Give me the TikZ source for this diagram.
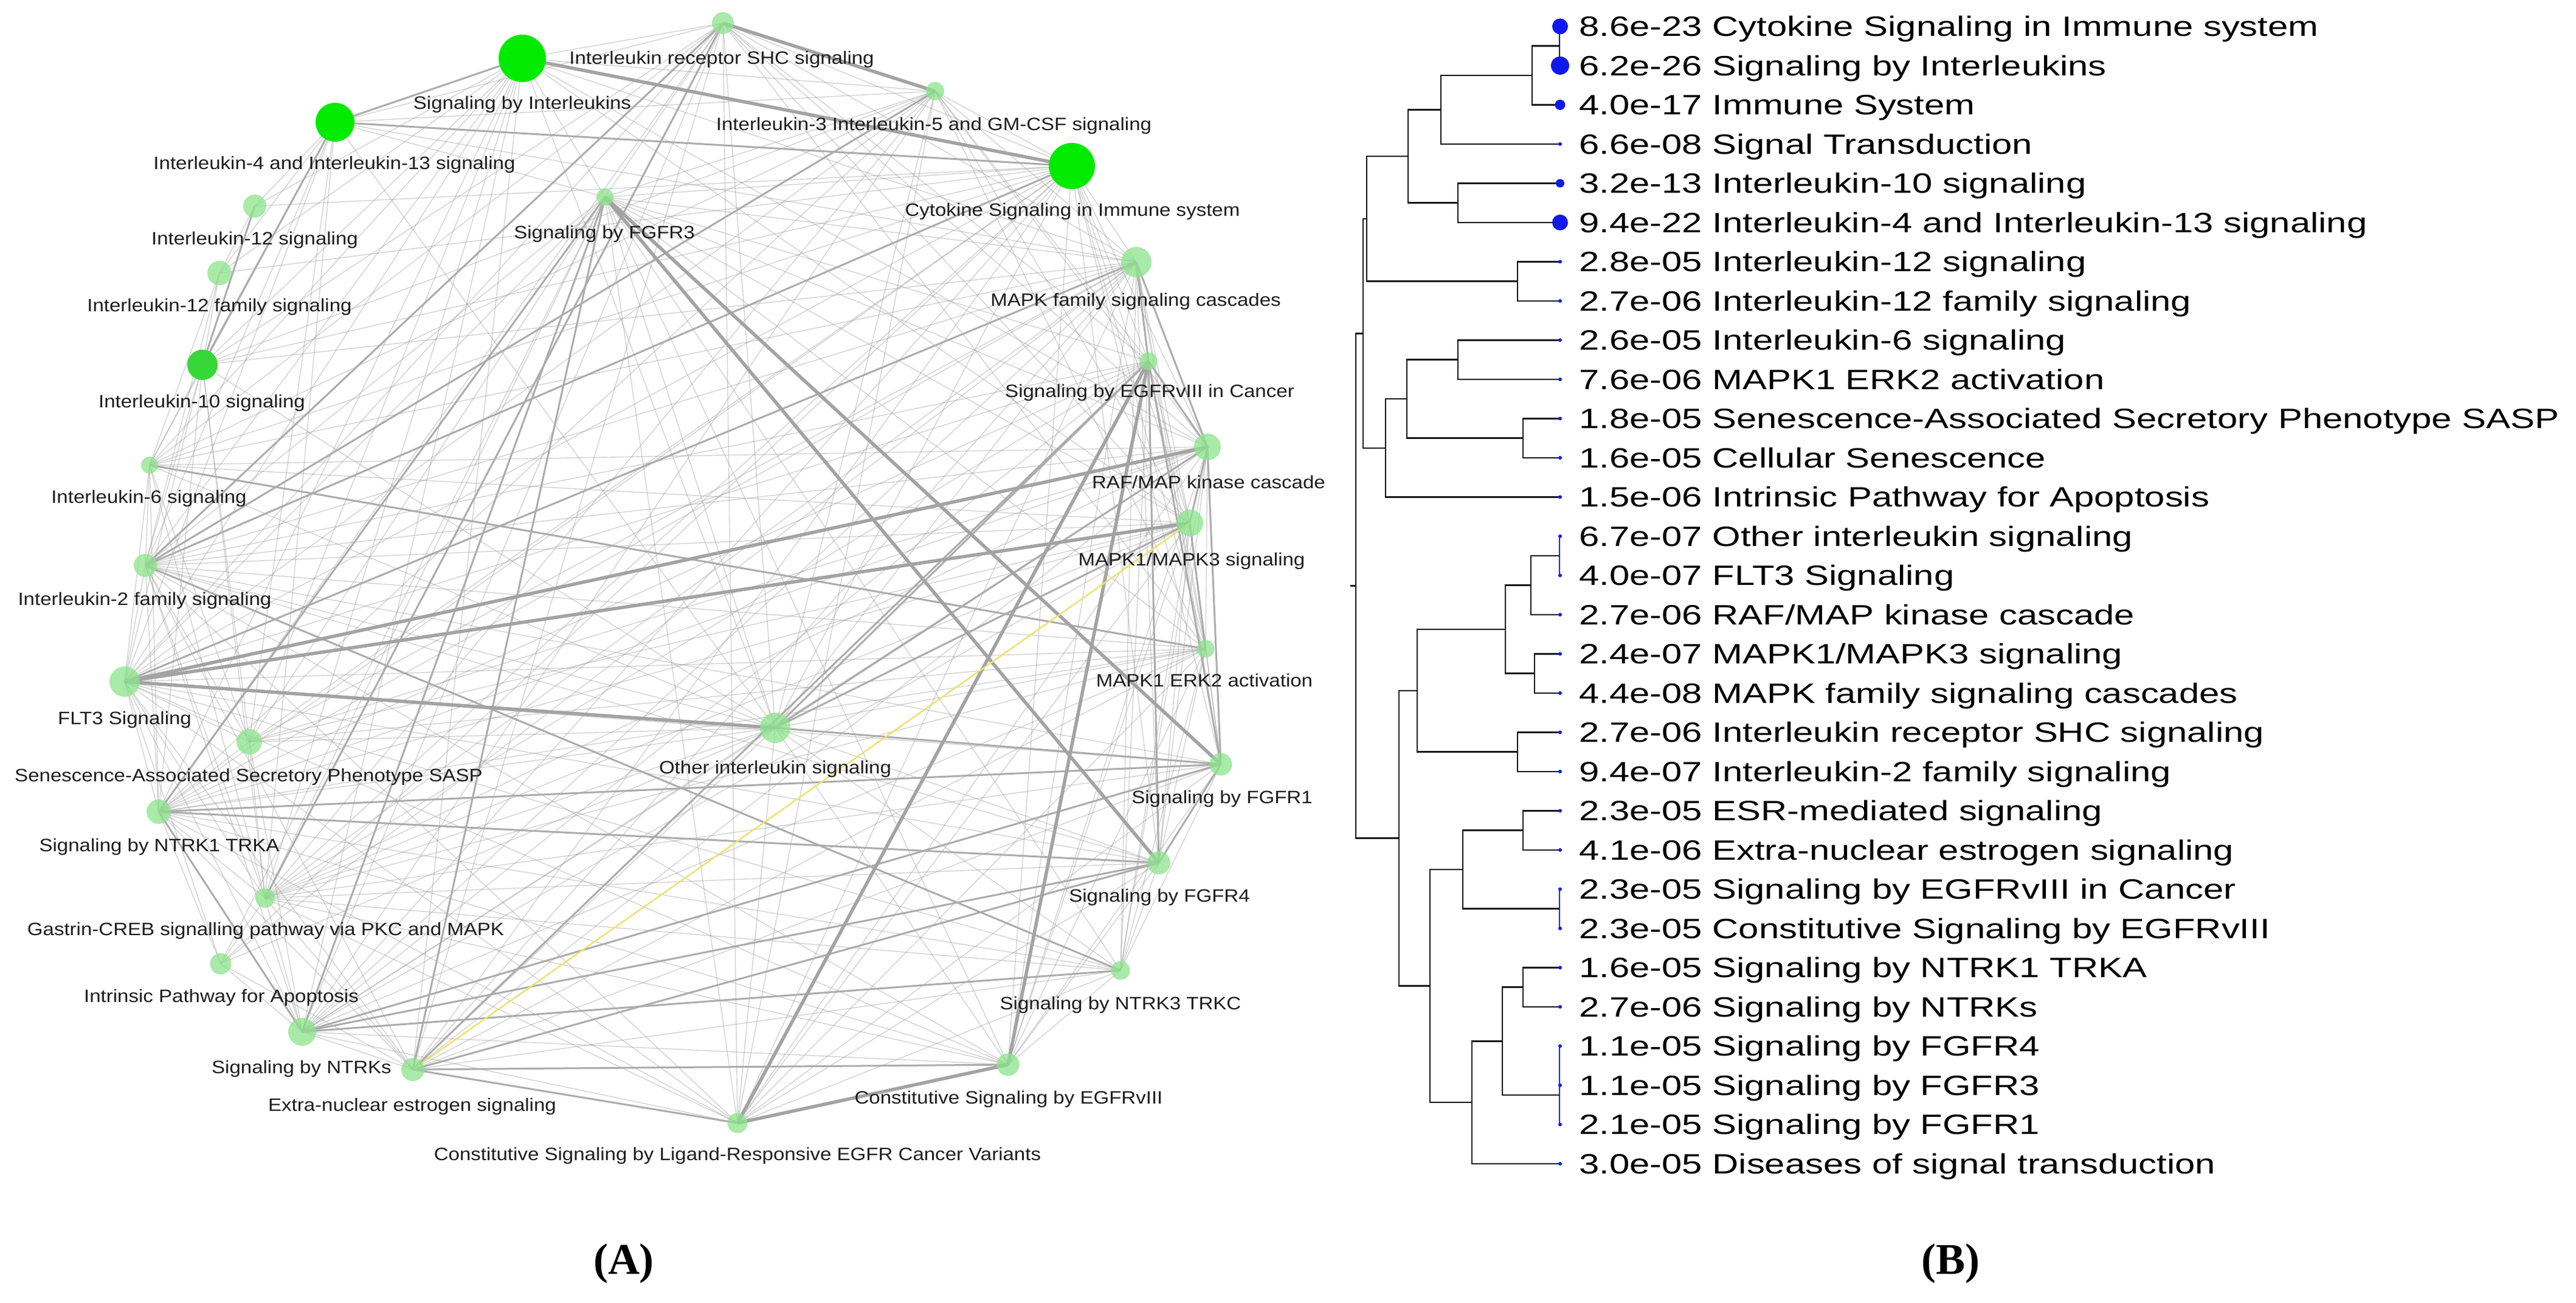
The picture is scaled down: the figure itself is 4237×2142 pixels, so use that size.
\documentclass[tikz,border=0pt]{standalone}
\usepackage{fontspec}
\newfontfamily\netfont[FakeStretch=1.12]{Liberation Sans}
\newfontfamily\dendfont[FakeStretch=1.3]{Liberation Sans}
\newfontfamily\capfont{Liberation Serif}
\pgfdeclarelayer{back}
\pgfdeclarelayer{edges}
\pgfsetlayers{back,edges,main}
\definecolor{brightgreen}{RGB}{0,235,0}
\definecolor{midgreen}{RGB}{55,215,55}
\definecolor{palegreen}{RGB}{140,228,140}
\definecolor{edgegray}{RGB}{150,150,150}
\definecolor{edgemid}{RGB}{172,172,172}
\definecolor{edgethick}{RGB}{163,163,163}
\definecolor{yedge}{RGB}{238,226,110}
\definecolor{dotblue}{RGB}{15,25,235}
\definecolor{dendline}{RGB}{25,25,25}
\definecolor{dendblue}{RGB}{40,40,190}
\definecolor{labtext}{RGB}{30,30,30}
\tikzset{
  nd/.style={circle, inner sep=0pt, draw=none},
  hot/.style={nd, fill=brightgreen},
  warm/.style={nd, fill=midgreen},
  cool/.style={nd, fill=palegreen, fill opacity=0.75},
  lab/.style={inner sep=0pt, text=labtext, font=\netfont\fontsize{29.5}{35}\selectfont, text height=21pt, text depth=0pt, anchor=center},
  dlab/.style={inner sep=0pt, text=black, font=\dendfont\fontsize{46}{55}\selectfont, text height=33pt, text depth=0pt, anchor=west},
  bdot/.style={circle, inner sep=0pt, draw=none, fill=dotblue},
  capt/.style={inner sep=0pt, font=\capfont\bfseries\fontsize{72}{86}\selectfont},
  ethin/.style={draw=edgegray, draw opacity=0.42, line width=1.4pt},
  emid/.style={draw=edgemid, line width=3pt},
  ethick/.style={draw=edgethick, line width=5.5pt},
  eyellow/.style={draw=yedge, line width=2.5pt},
  dl/.style={draw=dendline, line width=2.6pt},
  dlb/.style={draw=dendblue, line width=2.6pt}
}
\begin{document}
\begin{tikzpicture}[x=1pt,y=-1pt]
\begin{pgfonlayer}{back}
\fill[white] (0,0) rectangle (4237,2142);
\end{pgfonlayer}
\useasboundingbox (0,0) rectangle (4237,2142);

% ---------------- network nodes ----------------
\node[hot, minimum size=78pt] (sbil) at (859,96) {};
\node[hot, minimum size=64pt] (il4) at (551,201) {};
\node[cool, minimum size=36pt] (shc) at (1189,38) {};
\node[cool, minimum size=30pt] (il35) at (1538,150) {};
\node[hot, minimum size=76pt] (cyto) at (1763,273) {};
\node[cool, minimum size=28pt] (fgfr3) at (995,324) {};
\node[cool, minimum size=38pt] (il12) at (419,339) {};
\node[cool, minimum size=40pt] (il12f) at (361,449) {};
\node[warm, minimum size=50pt] (il10) at (333,600) {};
\node[cool, minimum size=28pt] (il6) at (246,765) {};
\node[cool, minimum size=38pt] (il2) at (239,930) {};
\node[cool, minimum size=50pt] (flt3) at (205,1121) {};
\node[cool, minimum size=42pt] (sasp) at (410,1220) {};
\node[cool, minimum size=40pt] (ntrk1) at (261,1335) {};
\node[cool, minimum size=32pt] (gastrin) at (436,1477) {};
\node[cool, minimum size=35pt] (intr) at (363,1585) {};
\node[cool, minimum size=46pt] (ntrks) at (497,1697) {};
\node[cool, minimum size=38pt] (extra) at (679,1759) {};
\node[cool, minimum size=33pt] (cslr) at (1213,1847) {};
\node[cool, minimum size=37pt] (cegfr) at (1658,1751) {};
\node[cool, minimum size=31pt] (ntrk3) at (1843,1596) {};
\node[cool, minimum size=38pt] (fgfr4) at (1906,1419) {};
\node[cool, minimum size=37pt] (fgfr1) at (2008,1257) {};
\node[cool, minimum size=29pt] (erk2) at (1983,1067) {};
\node[cool, minimum size=44pt] (mapk13) at (1957,860) {};
\node[cool, minimum size=44pt] (raf) at (1986,735) {};
\node[cool, minimum size=29pt] (egfrc) at (1889,594) {};
\node[cool, minimum size=50pt] (mapkf) at (1869,431) {};
\node[cool, minimum size=50pt] (other) at (1275,1197) {};

% ---------------- network edges ----------------
\begin{pgfonlayer}{edges}
\def\corelist{fgfr3,fgfr1,fgfr4,ntrk1,ntrks,ntrk3,mapkf,mapk13,raf,erk2,egfrc,cegfr,cslr,extra,gastrin,flt3,other,il2}
\foreach \a [count=\i] in \corelist {
  \foreach \b [count=\j] in \corelist {
    \ifnum\j>\i \draw[ethin] (\a.center) -- (\b.center); \fi
  }
}
\def\illist{cyto,sbil,il4,il10,il6,shc,il35}
\foreach \a [count=\i] in \illist {
  \foreach \b [count=\j] in \illist {
    \ifnum\j>\i \draw[ethin] (\a.center) -- (\b.center); \fi
  }
}
\foreach \a in {cyto,sbil,il4,il10,il6,shc,il35} {
  \foreach \b in {il2,flt3,other} { \draw[ethin] (\a.center) -- (\b.center); }
}
\foreach \a/\b in {il12/il12f, il12/il10, il12/sbil, il12/cyto, il12/il4, il12f/il10, il12f/sbil, il12f/cyto, il12f/il4, il12f/il6, il12f/il2,
  sasp/flt3, sasp/ntrk1, sasp/gastrin, sasp/mapkf, sasp/mapk13, sasp/raf, sasp/erk2, sasp/other, sasp/il6, sasp/il10, sasp/cyto, sasp/sbil, sasp/il4, sasp/il2, sasp/ntrks, sasp/fgfr3,
  intr/ntrks, intr/ntrk1, intr/gastrin, intr/flt3, intr/mapkf, intr/extra, intr/other, intr/cyto, intr/fgfr3,
  il6/mapkf, il6/raf, il6/mapk13, il6/gastrin, il6/ntrk1,
  cyto/mapkf, cyto/raf, cyto/mapk13, cyto/erk2, cyto/egfrc, cyto/fgfr3, cyto/gastrin, cyto/ntrk1, cyto/extra, cyto/fgfr1, cyto/cegfr, cyto/ntrks, cyto/fgfr4,
  sbil/mapkf, sbil/raf, sbil/mapk13, sbil/gastrin, sbil/ntrk1, sbil/extra, sbil/ntrks, sbil/fgfr3,
  shc/mapkf, shc/raf, shc/mapk13, shc/fgfr3, shc/ntrk1, shc/ntrks, shc/cslr, shc/egfrc, shc/extra, shc/erk2,
  il35/mapkf, il35/raf, il35/mapk13, il35/fgfr3, il35/ntrk1, il35/ntrks, il35/gastrin, il35/egfrc, il35/erk2, il35/cslr,
  il10/gastrin, il10/mapkf, il10/ntrk1, il4/mapkf, il4/fgfr3, il4/gastrin}
  { \draw[ethin] (\a.center) -- (\b.center); }
\foreach \a/\b in {sbil/il4, il4/cyto, il2/shc, il2/il35, flt3/mapkf, ntrk1/fgfr1, ntrk1/fgfr4, ntrks/fgfr3, ntrk1/fgfr3,
  other/mapk13, other/raf, other/egfrc, extra/cegfr, extra/cslr, ntrks/fgfr4, ntrks/fgfr1, fgfr4/fgfr1, il4/il10, il12/il10,
  il6/erk2, il2/ntrk3, il2/cyto, extra/egfrc, mapkf/egfrc, egfrc/raf, raf/mapk13, egfrc/fgfr1, raf/fgfr1, egfrc/fgfr4,
  other/fgfr1, gastrin/shc, extra/fgfr3, ntrk1/ntrks, ntrks/ntrk3, extra/fgfr4, mapkf/raf, mapk13/erk2}
  { \draw[emid] (\a.center) -- (\b.center); }
\foreach \a/\b in {sbil/cyto, shc/il35, flt3/other, fgfr3/fgfr4, fgfr3/fgfr1, cslr/egfrc, cegfr/egfrc, cslr/cegfr, flt3/raf, flt3/mapk13}
  { \draw[ethick] (\a.center) -- (\b.center); }
\draw[eyellow] (extra.center) -- (mapk13.center);
\end{pgfonlayer}

% ---------------- network labels ----------------
\node[lab] (l-sbil) at (859,169) {Signaling by Interleukins};
\node[lab] (l-il4) at (550,268) {Interleukin-4 and Interleukin-13 signaling};
\node[lab] (l-shc) at (1187,95) {Interleukin receptor SHC signaling};
\node[lab] (l-il35) at (1536,204) {Interleukin-3 Interleukin-5 and GM-CSF signaling};
\node[lab] (l-cyto) at (1764,345) {Cytokine Signaling in Immune system};
\node[lab] (l-fgfr3) at (994,382) {Signaling by FGFR3};
\node[lab] (l-il12) at (419,392) {Interleukin-12 signaling};
\node[lab] (l-il12f) at (361,502) {Interleukin-12 family signaling};
\node[lab] (l-il10) at (332,660) {Interleukin-10 signaling};
\node[lab] (l-mapkf) at (1868,493) {MAPK family signaling cascades};
\node[lab] (l-egfrc) at (1891,643) {Signaling by EGFRvIII in Cancer};
\node[lab] (l-raf) at (1988,793) {RAF/MAP kinase cascade};
\node[lab] (l-il6) at (245,817) {Interleukin-6 signaling};
\node[lab] (l-mapk13) at (1960,920) {MAPK1/MAPK3 signaling};
\node[lab] (l-il2) at (238,985) {Interleukin-2 family signaling};
\node[lab] (l-erk2) at (1981,1119) {MAPK1 ERK2 activation};
\node[lab] (l-flt3) at (205,1181) {FLT3 Signaling};
\node[lab] (l-other) at (1275,1262) {Other interleukin signaling};
\node[lab] (l-sasp) at (409,1275) {Senescence-Associated Secretory Phenotype SASP};
\node[lab] (l-fgfr1) at (2010,1311) {Signaling by FGFR1};
\node[lab] (l-ntrk1) at (262,1390) {Signaling by NTRK1 TRKA};
\node[lab] (l-fgfr4) at (1907,1473) {Signaling by FGFR4};
\node[lab] (l-gastrin) at (437,1528) {Gastrin-CREB signalling pathway via PKC and MAPK};
\node[lab] (l-intr) at (364,1638) {Intrinsic Pathway for Apoptosis};
\node[lab] (l-ntrk3) at (1843,1650) {Signaling by NTRK3 TRKC};
\node[lab] (l-ntrks) at (496,1755) {Signaling by NTRKs};
\node[lab] (l-cegfr) at (1659,1805) {Constitutive Signaling by EGFRvIII};
\node[lab] (l-extra) at (678,1817) {Extra-nuclear estrogen signaling};
\node[lab] (l-cslr) at (1213,1898) {Constitutive Signaling by Ligand-Responsive EGFR Cancer Variants};

% ---------------- dendrogram ----------------
\draw[dl] (2565,43.4)--(2565,107.9);
\draw[dl] (2565,75.65)--(2520,75.65)--(2520,172.4)--(2565,172.4);
\draw[dl] (2520,124)--(2370,124)--(2370,236.9)--(2565,236.9);
\draw[dl] (2565,301.4)--(2398,301.4)--(2398,365.9)--(2565,365.9);
\draw[dl] (2370,180.5)--(2316,180.5)--(2316,333.65)--(2398,333.65);
\draw[dl] (2565,430.4)--(2496,430.4)--(2496,494.9)--(2565,494.9);
\draw[dl] (2316,257)--(2248,257)--(2248,462.65)--(2496,462.65);
\draw[dl] (2565,559.4)--(2398,559.4)--(2398,623.9)--(2565,623.9);
\draw[dl] (2565,688.4)--(2505,688.4)--(2505,752.9)--(2565,752.9);
\draw[dl] (2398,591.65)--(2314,591.65)--(2314,720.65)--(2505,720.65);
\draw[dl] (2314,656.15)--(2279,656.15)--(2279,817.4)--(2565,817.4);
\draw[dl] (2248,359.8)--(2242,359.8)--(2242,736.8)--(2279,736.8);
\draw[dlb] (2565,881.9)--(2565,946.4);
\draw[dl] (2565,914.15)--(2518,914.15)--(2518,1010.9)--(2565,1010.9);
\draw[dl] (2565,1075.4)--(2524,1075.4)--(2524,1139.9)--(2565,1139.9);
\draw[dl] (2518,962.5)--(2476,962.5)--(2476,1107.65)--(2524,1107.65);
\draw[dl] (2565,1204.4)--(2496,1204.4)--(2496,1268.9)--(2565,1268.9);
\draw[dl] (2476,1035)--(2331,1035)--(2331,1236.65)--(2496,1236.65);
\draw[dl] (2565,1333.4)--(2505,1333.4)--(2505,1397.9)--(2565,1397.9);
\draw[dlb] (2565,1462.4)--(2565,1526.9);
\draw[dl] (2505,1365.65)--(2406,1365.65)--(2406,1494.65)--(2565,1494.65);
\draw[dl] (2565,1591.4)--(2505,1591.4)--(2505,1655.9)--(2565,1655.9);
\draw[dlb] (2565,1720.4)--(2565,1849.4);
\draw[dl] (2505,1623.65)--(2471,1623.65)--(2471,1801)--(2565,1801);
\draw[dl] (2471,1712.3)--(2421,1712.3)--(2421,1913.9)--(2565,1913.9);
\draw[dl] (2406,1430.15)--(2352,1430.15)--(2352,1813.1)--(2421,1813.1);
\draw[dl] (2331,1135.8)--(2301,1135.8)--(2301,1621.6)--(2352,1621.6);
\draw[dl] (2242,548.3)--(2230,548.3)--(2230,1378.7)--(2301,1378.7);
\draw[dl] (2230,963.5)--(2221,963.5);

% dots
\node[bdot, minimum size=26pt] (d1) at (2566,43.4) {};
\node[bdot, minimum size=30pt] (d2) at (2566,107.9) {};
\node[bdot, minimum size=17pt] (d3) at (2566,172.4) {};
\node[bdot, minimum size=6pt] (d4) at (2566,236.9) {};
\node[bdot, minimum size=14pt] (d5) at (2566,301.4) {};
\node[bdot, minimum size=26pt] (d6) at (2566,365.9) {};
\foreach \k in {7,...,30} {
  \node[bdot, minimum size=6pt] (d\k) at (2566,{43.4+(\k-1)*64.5}) {};
}

% row labels
\node[dlab] (r1) at (2597,43.4) {8.6e-23 Cytokine Signaling in Immune system};
\node[dlab] (r2) at (2597,107.9) {6.2e-26 Signaling by Interleukins};
\node[dlab] (r3) at (2597,172.4) {4.0e-17 Immune System};
\node[dlab] (r4) at (2597,236.9) {6.6e-08 Signal Transduction};
\node[dlab] (r5) at (2597,301.4) {3.2e-13 Interleukin-10 signaling};
\node[dlab] (r6) at (2597,365.9) {9.4e-22 Interleukin-4 and Interleukin-13 signaling};
\node[dlab] (r7) at (2597,430.4) {2.8e-05 Interleukin-12 signaling};
\node[dlab] (r8) at (2597,494.9) {2.7e-06 Interleukin-12 family signaling};
\node[dlab] (r9) at (2597,559.4) {2.6e-05 Interleukin-6 signaling};
\node[dlab] (r10) at (2597,623.9) {7.6e-06 MAPK1 ERK2 activation};
\node[dlab] (r11) at (2597,688.4) {1.8e-05 Senescence-Associated Secretory Phenotype SASP};
\node[dlab] (r12) at (2597,752.9) {1.6e-05 Cellular Senescence};
\node[dlab] (r13) at (2597,817.4) {1.5e-06 Intrinsic Pathway for Apoptosis};
\node[dlab] (r14) at (2597,881.9) {6.7e-07 Other interleukin signaling};
\node[dlab] (r15) at (2597,946.4) {4.0e-07 FLT3 Signaling};
\node[dlab] (r16) at (2597,1010.9) {2.7e-06 RAF/MAP kinase cascade};
\node[dlab] (r17) at (2597,1075.4) {2.4e-07 MAPK1/MAPK3 signaling};
\node[dlab] (r18) at (2597,1139.9) {4.4e-08 MAPK family signaling cascades};
\node[dlab] (r19) at (2597,1204.4) {2.7e-06 Interleukin receptor SHC signaling};
\node[dlab] (r20) at (2597,1268.9) {9.4e-07 Interleukin-2 family signaling};
\node[dlab] (r21) at (2597,1333.4) {2.3e-05 ESR-mediated signaling};
\node[dlab] (r22) at (2597,1397.9) {4.1e-06 Extra-nuclear estrogen signaling};
\node[dlab] (r23) at (2597,1462.4) {2.3e-05 Signaling by EGFRvIII in Cancer};
\node[dlab] (r24) at (2597,1526.9) {2.3e-05 Constitutive Signaling by EGFRvIII};
\node[dlab] (r25) at (2597,1591.4) {1.6e-05 Signaling by NTRK1 TRKA};
\node[dlab] (r26) at (2597,1655.9) {2.7e-06 Signaling by NTRKs};
\node[dlab] (r27) at (2597,1720.4) {1.1e-05 Signaling by FGFR4};
\node[dlab] (r28) at (2597,1784.9) {1.1e-05 Signaling by FGFR3};
\node[dlab] (r29) at (2597,1849.4) {2.1e-05 Signaling by FGFR1};
\node[dlab] (r30) at (2597,1913.9) {3.0e-05 Diseases of signal transduction};

% captions
\node[capt] (capA) at (1026,2078) {(A)};
\node[capt] (capB) at (3208,2078) {(B)};
\end{tikzpicture}
\end{document}
